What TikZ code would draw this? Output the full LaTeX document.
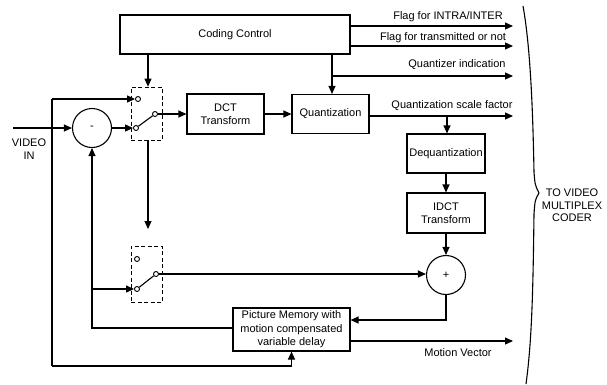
\documentclass[tikz,border=0pt]{standalone}
\usepackage{fontspec}
\setmainfont{Liberation Sans}
\usetikzlibrary{arrows.meta,calc}
\tikzset{
  blk/.style={draw,line width=1.1pt,rectangle,inner sep=0pt,align=center,font=\fontsize{11}{13.5}\selectfont},
  sumc/.style={draw,line width=1.1pt,circle,minimum size=39pt,inner sep=0pt,font=\fontsize{11}{12}\selectfont},
  cont/.style={draw,line width=0.9pt,circle,minimum size=5pt,inner sep=0pt,fill=white},
  dbox/.style={draw,dash pattern=on 4pt off 2.5pt,line width=0.7pt},
  conn/.style={line width=1.1pt},
  arr/.style={line width=1.1pt,-{Triangle[length=8pt,width=7pt]}},
  lbl/.style={font=\fontsize{11}{12}\selectfont,inner sep=0pt},
}
\begin{document}
\begin{tikzpicture}[x=1pt,y=-1pt]
\useasboundingbox (0,0) rectangle (607,384);
% blocks
\node[blk,minimum width=230pt,minimum height=39pt] (cc) at (235,34.5) {Coding Control};
\node[blk,minimum width=77pt,minimum height=40pt] (dct) at (225.5,114) {DCT\\Transform};
\node[blk,minimum width=77pt,minimum height=39pt] (quant) at (330.5,114) {Quantization};
\node[blk,minimum width=78pt,minimum height=39pt] (dequant) at (446,153.5) {Dequantization};
\node[blk,minimum width=78pt,minimum height=40pt] (idct) at (446,213) {IDCT\\Transform};
\node[blk,minimum width=117pt,minimum height=43pt] (pm) at (291.5,329.5) {Picture Memory with\\motion compensated\\variable delay};
\node[sumc] (minus) at (92,128) {-};
\node[sumc] (plus) at (446,275) {+};
% switch 1
\node[dbox,minimum width=31pt,minimum height=53pt,inner sep=0pt] (sw1) at (146.5,113.5) {};
\node[cont] (c1a) at (138,99) {};
\node[cont] (c1b) at (136,128) {};
\node[cont] (c1p) at (155,114) {};
\draw[conn] (c1b) -- (c1p);
% switch 2
\node[dbox,minimum width=31pt,minimum height=56pt,inner sep=0pt] (sw2) at (146.5,274) {};
\node[cont] (c2a) at (137,259) {};
\node[cont] (c2b) at (137,289) {};
\node[cont] (c2p) at (156,274) {};
\draw[conn] (c2b) -- (c2p);
% coordinates
\coordinate (vin) at (13,128);
\coordinate (bTop) at (52,99);
\coordinate (bBot) at (52,366);
\coordinate (o1) at (513,26);
\coordinate (o2) at (513,46);
\coordinate (o3) at (513,76);
\coordinate (o4) at (513,116);
\coordinate (o5) at (513,341);
\coordinate (qd) at (332,76);
\coordinate (qs) at (447,116);
\coordinate (s1e) at (148,229);
\coordinate (pret) at (92,328);
\coordinate (sw2in) at (92,289);
\coordinate (pdown) at (446,320);
% connectors
\draw[arr] (vin) -- (minus.west);
\draw[conn] (bTop) -- (bBot);
\draw[arr] (bTop) -- (c1a.west);
\draw[arr] (bBot) -- (bBot -| pm.south) -- (pm.south);
\draw[arr] (minus.east) -- (c1b.west);
\draw[arr] (c1p.east) -- (dct.west |- c1p);
\draw[arr] (dct.east) -- (quant.west |- dct.east);
\draw[arr] (cc.south -| s1e) -- (sw1.north -| s1e);
\draw[arr] (cc.south -| qd) -- (quant.north -| qd);
\draw[arr] (qd) -- (o3);
\draw[arr] (cc.east |- o1) -- (o1);
\draw[arr] (cc.east |- o2) -- (o2);
\draw[arr] (quant.east |- o4) -- (o4);
\draw[arr] (qs) -- (dequant.north -| qs);
\draw[arr] (dequant) -- (idct);
\draw[arr] (idct) -- (plus);
\draw[arr] (sw1.south -| s1e) -- (s1e);
\draw[arr] (c2p.east) -- (plus.west |- c2p);
\draw[arr] (plus.south) -- (pdown) -- (pm.east |- pdown);
\draw[arr] (pm.east |- o5) -- (o5);
\draw[arr] (pm.west |- pret) -- (pret) -- (minus.south);
\draw[arr] (sw2in) -- (c2b.west);
% labels
\node[lbl] (l1) at (448,17) {Flag for INTRA/INTER};
\node[lbl] (l2) at (443,38) {Flag for transmitted or not};
\node[lbl] (l3) at (457,65) {Quantizer indication};
\node[lbl] (l4) at (452,106) {Quantization scale factor};
\node[lbl] (l5) at (458,353) {Motion Vector};
\node[lbl,align=center,font=\fontsize{11}{13}\selectfont] (vinl) at (29,149.5) {VIDEO\\IN};
\node[lbl,align=center,font=\fontsize{11}{12.5}\selectfont] (tvm) at (572,205.5) {TO VIDEO\\MULTIPLEX\\CODER};
% brace
\draw[line width=1.1pt] (523,6) .. controls (531,50) and (533,120) .. (534,172) .. controls (535,185) .. (539,193) .. controls (535,200) .. (534,214) .. controls (533,290) and (532,340) .. (526,384);
\end{tikzpicture}
\end{document}
